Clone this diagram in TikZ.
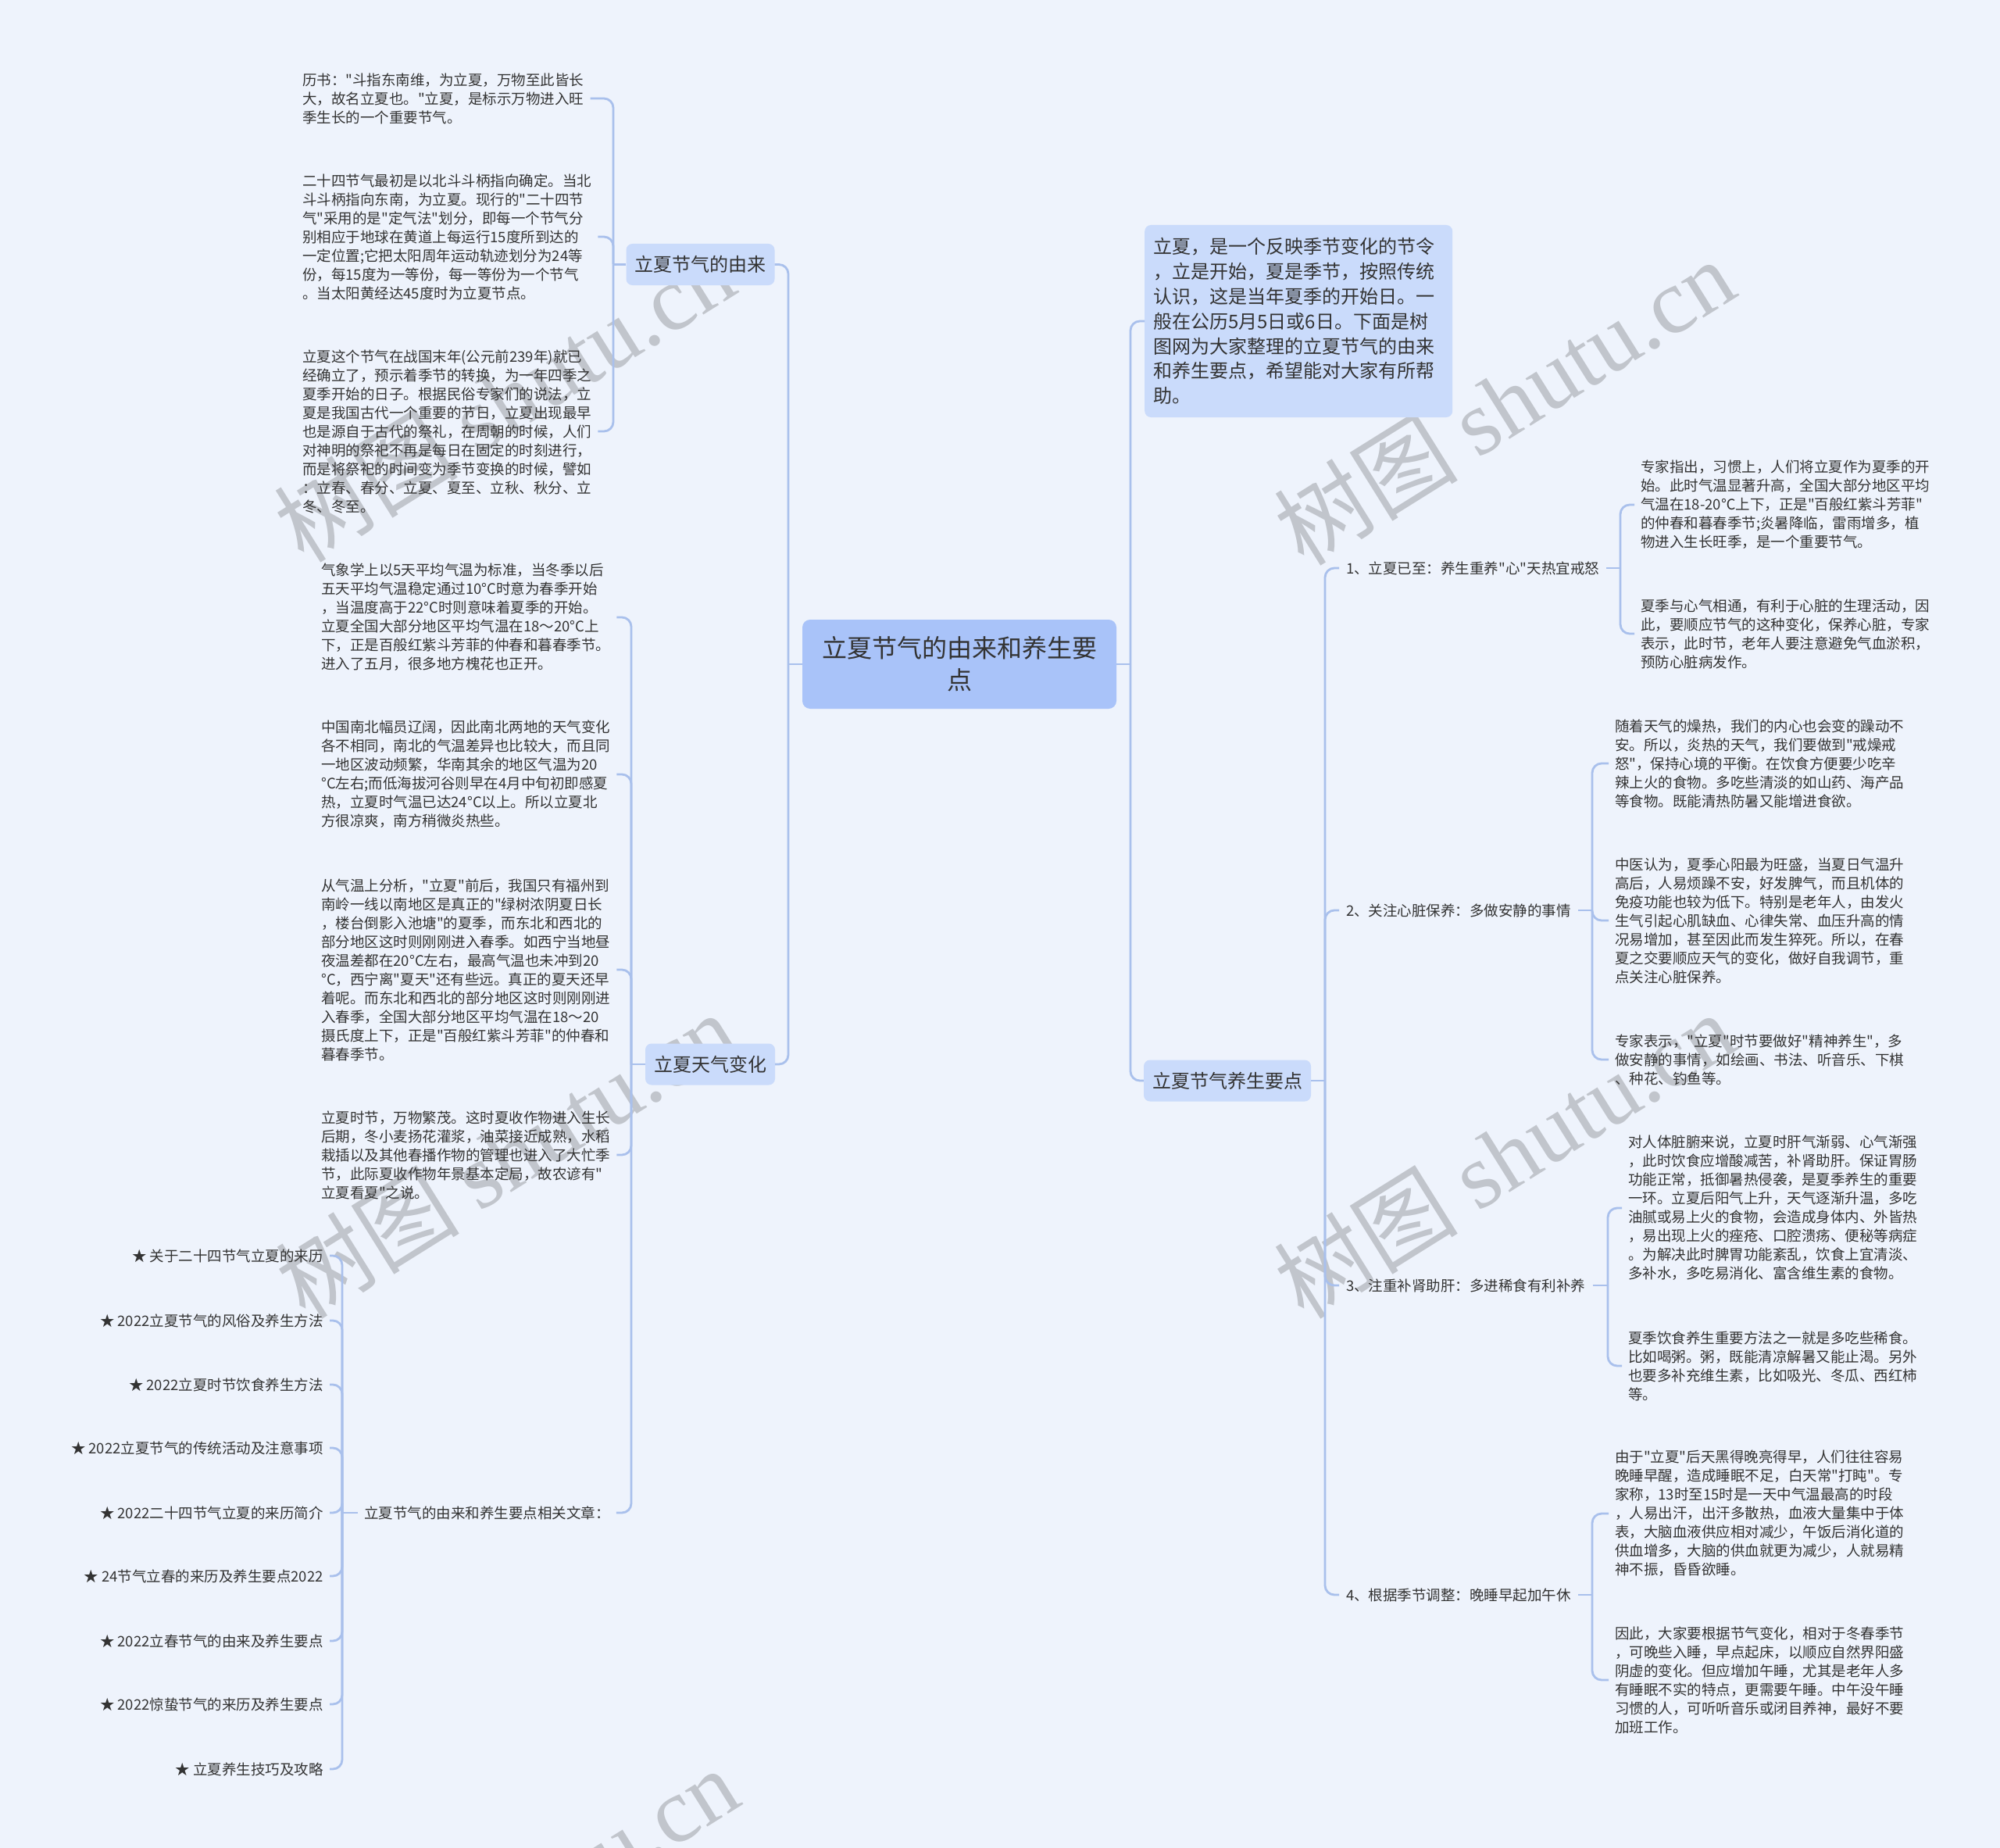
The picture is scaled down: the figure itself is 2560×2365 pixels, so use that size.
\documentclass[tikz,border=0pt]{standalone}
\usepackage{fontspec}
\setmainfont{Noto Sans CJK SC}[Ligatures=TeXOff]
\newfontfamily\wmlatin{Liberation Serif}
\usetikzlibrary{calc}
\definecolor{bgc}{HTML}{EEF3FC}
\definecolor{rootc}{HTML}{A9C3F9}
\definecolor{lvc}{HTML}{CADBFB}
\definecolor{conc}{HTML}{A9C0EC}
\definecolor{txtc}{HTML}{333333}
\definecolor{wmc}{HTML}{C1C5CC}
\tikzset{
  conn/.style={draw=conc, line width=2.8pt, rounded corners=12pt},
  rootn/.style={fill=rootc, rounded corners=10pt, minimum width=402pt, minimum height=114pt,
    align=center, inner sep=0pt, text=txtc, font=\fontsize{32}{41}\selectfont},
  lv/.style={fill=lvc, rounded corners=8pt, minimum height=53pt, inner xsep=11pt, inner ysep=0pt,
    text=txtc, font=\fontsize{24}{30}\selectfont},
  leaf/.style={anchor=west, align=left, inner xsep=8pt, inner ysep=2pt, text=txtc,
    font=\fontsize{18.5}{24}\selectfont},
  sub/.style={anchor=west, inner xsep=9pt, inner ysep=2pt, text=txtc,
    font=\fontsize{18.5}{24}\selectfont},
  star/.style={anchor=east, inner xsep=8pt, inner ysep=2pt, text=txtc,
    font=\fontsize{18.5}{24}\selectfont},
  wm/.style={text=wmc, rotate=32, inner sep=0pt, font=\fontsize{118}{124}\selectfont}
}
\begin{document}
\begin{tikzpicture}[x=1pt,y=-1pt]
\useasboundingbox (0,0) rectangle (2560,2365);
\fill[bgc] (0,0) rectangle (2560,2365);

% watermarks
\node[wm] (w1) at (645,510) {树图 {\wmlatin shutu.cn}};
\node[wm] (w2) at (1925,514) {树图 {\wmlatin shutu.cn}};
\node[wm] (w3) at (647,1478) {树图 {\wmlatin shutu.cn}};
\node[wm] (w4) at (1925,1478) {树图 {\wmlatin shutu.cn}};
\node[wm] (w5) at (650,2445) {树图 {\wmlatin shutu.cn}};

% trunk coordinates
\coordinate (tL) at (1009,0);
\coordinate (tR) at (1447,0);
\coordinate (tA) at (785,0);
\coordinate (tB) at (808,0);
\coordinate (tC) at (438,0);
\coordinate (tD) at (1696,0);
\coordinate (t1) at (2074,0);
\coordinate (t2) at (2038,0);
\coordinate (t3) at (2058,0);
\coordinate (t4) at (2038,0);

% root and level 1
\node[rootn] (root) at (1228,850) {立夏节气的由来和养生要\\点};
\node[lv] (n1) at (896.5,338.5) {立夏节气的由来};
\node[lv] (n2) at (909,1362) {立夏天气变化};
\node[lv] (n3) at (1571,1383) {立夏节气养生要点};
\node[lv, anchor=west, text width=372pt, align=left, minimum height=246pt,
  font=\fontsize{24}{31.8}\selectfont] (intro) at (1465,411) {立夏，是一个反映季节变化的节令\\，立是开始，夏是季节，按照传统\\认识，这是当年夏季的开始日。一\\般在公历5月5日或6日。下面是树\\图网为大家整理的立夏节气的由来\\和养生要点，希望能对大家有所帮\\助。};

% left branch 1 leaves
\node[leaf] (a1) at (379,126) {历书："斗指东南维，为立夏，万物至此皆长\\大，故名立夏也。"立夏，是标示万物进入旺\\季生长的一个重要节气。};
\node[leaf] (a2) at (379,303) {二十四节气最初是以北斗斗柄指向确定。当北\\斗斗柄指向东南，为立夏。现行的"二十四节\\气"采用的是"定气法"划分，即每一个节气分\\别相应于地球在黄道上每运行15度所到达的\\一定位置;它把太阳周年运动轨迹划分为24等\\份，每15度为一等份，每一等份为一个节气\\。当太阳黄经达45度时为立夏节点。};
\node[leaf] (a3) at (379,552) {立夏这个节气在战国末年(公元前239年)就已\\经确立了，预示着季节的转换，为一年四季之\\夏季开始的日子。根据民俗专家们的说法，立\\夏是我国古代一个重要的节日，立夏出现最早\\也是源自于古代的祭礼，在周朝的时候，人们\\对神明的祭祀不再是每日在固定的时刻进行，\\而是将祭祀的时间变为季节变换的时候，譬如\\：立春、春分、立夏、夏至、立秋、秋分、立\\冬、冬至。};

% left branch 2 leaves
\node[leaf] (b1) at (403,790) {气象学上以5天平均气温为标准，当冬季以后\\五天平均气温稳定通过10°C时意为春季开始\\，当温度高于22°C时则意味着夏季的开始。\\立夏全国大部分地区平均气温在18～20°C上\\下，正是百般红紫斗芳菲的仲春和暮春季节。\\进入了五月，很多地方槐花也正开。};
\node[leaf] (b2) at (403,991) {中国南北幅员辽阔，因此南北两地的天气变化\\各不相同，南北的气温差异也比较大，而且同\\一地区波动频繁，华南其余的地区气温为20\\°C左右;而低海拔河谷则早在4月中旬初即感夏\\热，立夏时气温已达24°C以上。所以立夏北\\方很凉爽，南方稍微炎热些。};
\node[leaf] (b3) at (403,1241) {从气温上分析，"立夏"前后，我国只有福州到\\南岭一线以南地区是真正的"绿树浓阴夏日长\\，楼台倒影入池塘"的夏季，而东北和西北的\\部分地区这时则刚刚进入春季。如西宁当地昼\\夜温差都在20°C左右，最高气温也未冲到20\\°C，西宁离"夏天"还有些远。真正的夏天还早\\着呢。而东北和西北的部分地区这时则刚刚进\\入春季，全国大部分地区平均气温在18～20\\摄氏度上下，正是"百般红紫斗芳菲"的仲春和\\暮春季节。};
\node[leaf] (b4) at (403,1478) {立夏时节，万物繁茂。这时夏收作物进入生长\\后期，冬小麦扬花灌浆，油菜接近成熟，水稻\\栽插以及其他春播作物的管理也进入了大忙季\\节，此际夏收作物年景基本定局，故农谚有"\\立夏看夏"之说。};
\node[sub, inner xsep=8pt] (rel) at (458,1936) {立夏节气的由来和养生要点相关文章：};

% related articles
\node[star] (st1) at (422,1607) {★ 关于二十四节气立夏的来历};
\node[star] (st2) at (422,1690) {★ 2022立夏节气的风俗及养生方法};
\node[star] (st3) at (422,1772) {★ 2022立夏时节饮食养生方法};
\node[star] (st4) at (422,1853) {★ 2022立夏节气的传统活动及注意事项};
\node[star] (st5) at (422,1936) {★ 2022二十四节气立夏的来历简介};
\node[star] (st6) at (422,2017) {★ 24节气立春的来历及养生要点2022};
\node[star] (st7) at (422,2100) {★ 2022立春节气的由来及养生要点};
\node[star] (st8) at (422,2181) {★ 2022惊蛰节气的来历及养生要点};
\node[star] (st9) at (422,2264) {★ 立夏养生技巧及攻略};

% right sub items
\node[sub] (s1) at (1714,727) {1、立夏已至：养生重养"心"天热宜戒怒};
\node[sub] (s2) at (1714,1165) {2、关注心脏保养：多做安静的事情};
\node[sub] (s3) at (1714,1645) {3、注重补肾助肝：多进稀食有利补养};
\node[sub] (s4) at (1714,2041) {4、根据季节调整：晚睡早起加午休};

% right leaves
\node[leaf] (r1a) at (2092,646) {专家指出，习惯上，人们将立夏作为夏季的开\\始。此时气温显著升高，全国大部分地区平均\\气温在18-20℃上下，正是"百般红紫斗芳菲"\\的仲春和暮春季节;炎暑降临，雷雨增多，植\\物进入生长旺季，是一个重要节气。};
\node[leaf] (r1b) at (2092,811) {夏季与心气相通，有利于心脏的生理活动，因\\此，要顺应节气的这种变化，保养心脏，专家\\表示，此时节，老年人要注意避免气血淤积，\\预防心脏病发作。};
\node[leaf] (r2a) at (2059,977) {随着天气的燥热，我们的内心也会变的躁动不\\安。所以，炎热的天气，我们要做到"戒燥戒\\怒"，保持心境的平衡。在饮食方便要少吃辛\\辣上火的食物。多吃些清淡的如山药、海产品\\等食物。既能清热防暑又能增进食欲。};
\node[leaf] (r2b) at (2059,1178) {中医认为，夏季心阳最为旺盛，当夏日气温升\\高后，人易烦躁不安，好发脾气，而且机体的\\免疫功能也较为低下。特别是老年人，由发火\\生气引起心肌缺血、心律失常、血压升高的情\\况易增加，甚至因此而发生猝死。所以，在春\\夏之交要顺应天气的变化，做好自我调节，重\\点关注心脏保养。};
\node[leaf] (r2c) at (2059,1356) {专家表示，"立夏"时节要做好"精神养生"，多\\做安静的事情，如绘画、书法、听音乐、下棋\\、种花、钓鱼等。};
\node[leaf] (r3a) at (2076,1546) {对人体脏腑来说，立夏时肝气渐弱、心气渐强\\，此时饮食应增酸减苦，补肾助肝。保证胃肠\\功能正常，抵御暑热侵袭，是夏季养生的重要\\一环。立夏后阳气上升，天气逐渐升温，多吃\\油腻或易上火的食物，会造成身体内、外皆热\\，易出现上火的痤疮、口腔溃疡、便秘等病症\\。为解决此时脾胃功能紊乱，饮食上宜清淡、\\多补水，多吃易消化、富含维生素的食物。};
\node[leaf] (r3b) at (2076,1748) {夏季饮食养生重要方法之一就是多吃些稀食。\\比如喝粥。粥，既能清凉解暑又能止渴。另外\\也要多补充维生素，比如吸光、冬瓜、西红柿\\等。};
\node[leaf] (r4a) at (2059,1937) {由于"立夏"后天黑得晚亮得早，人们往往容易\\晚睡早醒，造成睡眠不足，白天常"打盹"。专\\家称，13时至15时是一天中气温最高的时段\\，人易出汗，出汗多散热，血液大量集中于体\\表，大脑血液供应相对减少，午饭后消化道的\\供血增多，大脑的供血就更为减少，人就易精\\神不振，昏昏欲睡。};
\node[leaf] (r4b) at (2059,2150) {因此，大家要根据节气变化，相对于冬春季节\\，可晚些入睡，早点起床，以顺应自然界阳盛\\阴虚的变化。但应增加午睡，尤其是老年人多\\有睡眠不实的特点，更需要午睡。中午没午睡\\习惯的人，可听听音乐或闭目养神，最好不要\\加班工作。};

% ---- connectors ----
\draw[conn] (root.west) -- (root.west -| tL);
\draw[conn] (root.east) -- (root.east -| tR);
\foreach \c in {n1,n2} \draw[conn] (root.west -| tL) -- (\c.east -| tL) -- (\c.east);
\foreach \c in {intro,n3} \draw[conn] (root.east -| tR) -- (\c.west -| tR) -- (\c.west);

\draw[conn] (n1.west) -- (n1.west -| tA);
\foreach \c in {a1,a2,a3} \draw[conn] (n1.west -| tA) -- (\c.east -| tA) -- (\c.east);

\draw[conn] (n2.west) -- (n2.west -| tB);
\foreach \c in {b1,b2,b3,b4,rel} \draw[conn] (n2.west -| tB) -- (\c.east -| tB) -- (\c.east);

\draw[conn] (rel.west) -- (rel.west -| tC);
\foreach \c in {st1,st2,st3,st4,st5,st6,st7,st8,st9} \draw[conn] (rel.west -| tC) -- (\c.east -| tC) -- (\c.east);

\draw[conn] (n3.east) -- (n3.east -| tD);
\foreach \c in {s1,s2,s3,s4} \draw[conn] (n3.east -| tD) -- (\c.west -| tD) -- (\c.west);

\draw[conn] (s1.east) -- (s1.east -| t1);
\foreach \c in {r1a,r1b} \draw[conn] (s1.east -| t1) -- (\c.west -| t1) -- (\c.west);
\draw[conn] (s2.east) -- (s2.east -| t2);
\foreach \c in {r2a,r2b,r2c} \draw[conn] (s2.east -| t2) -- (\c.west -| t2) -- (\c.west);
\draw[conn] (s3.east) -- (s3.east -| t3);
\foreach \c in {r3a,r3b} \draw[conn] (s3.east -| t3) -- (\c.west -| t3) -- (\c.west);
\draw[conn] (s4.east) -- (s4.east -| t4);
\foreach \c in {r4a,r4b} \draw[conn] (s4.east -| t4) -- (\c.west -| t4) -- (\c.west);
\end{tikzpicture}
\end{document}
